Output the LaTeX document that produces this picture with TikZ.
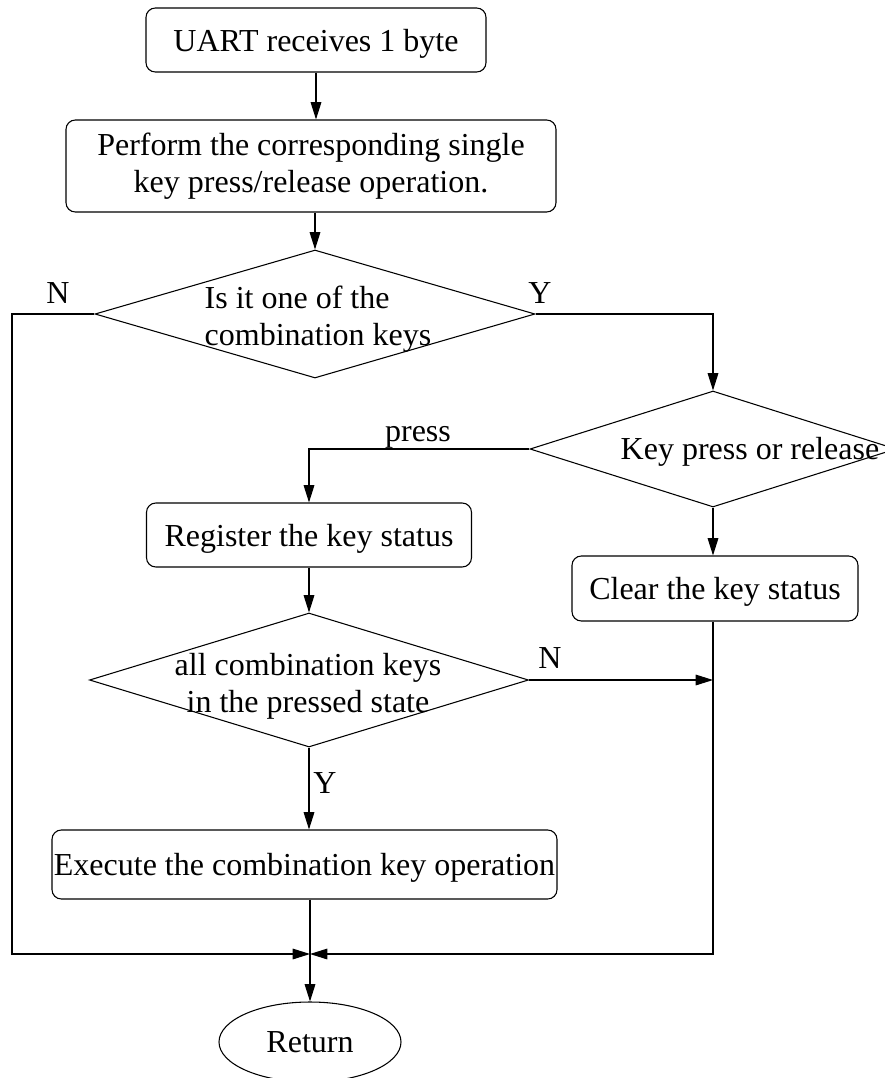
\documentclass[tikz,border=0pt]{standalone}
\usepackage{fontspec}
\setmainfont{Liberation Serif}
\usetikzlibrary{shapes.geometric,arrows.meta}
\begin{document}
\begin{tikzpicture}[x=0.75pt,y=-0.75pt,
  every node/.style={font=\fontsize{24}{27.5}\selectfont},
  box/.style={draw,rounded corners=7pt,line width=0.8pt,inner sep=0pt,align=center},
  oneline/.style={text height=17pt,text depth=0pt},
  dia/.style={draw,diamond,line width=0.8pt,inner sep=0pt},
  term/.style={draw,ellipse,line width=0.8pt,inner sep=0pt},
  txt/.style={inner sep=0pt,align=center},
  line/.style={line width=0.8pt},
  arr/.style={line width=0.8pt,-{Triangle[length=13pt,width=8pt]}}]
\useasboundingbox (0,0) rectangle (885,1078);
% nodes
\node[box,oneline,minimum width=255pt,minimum height=48pt] (b1) at (316,40) {UART receives 1 byte};
\node[box,minimum width=367.5pt,minimum height=69pt] (b2) at (311,166) {Perform the corresponding single\\key press/release operation.};
\node[dia,minimum width=330pt,minimum height=96pt] (d1) at (315,314) {};
\node[txt,align=left] (t1) at (318,319) {Is it one of the\\combination keys};
\node[dia,minimum width=274.5pt,minimum height=87pt] (d2) at (713,449) {};
\node[txt] (t2) at (750,452) {Key press or release};
\node[box,oneline,minimum width=243.75pt,minimum height=48pt] (b3) at (309,535) {Register the key status};
\node[box,oneline,minimum width=214.5pt,minimum height=48.75pt] (b4) at (715,588.5) {Clear the key status};
\node[dia,minimum width=329.25pt,minimum height=100.5pt] (d3) at (309,680) {};
\node[txt] (t3) at (308,686) {all combination keys\\in the pressed state};
\node[box,oneline,minimum width=378.75pt,minimum height=51.75pt] (b5) at (304.5,864.5) {Execute the combination key operation};
\node[term,minimum width=136.5pt,minimum height=60pt] (r) at (310,1042) {Return};
% labels
\node[txt] (lN1) at (58,293) {N};
\node[txt] (lY1) at (540,293) {Y};
\node[txt] (lp) at (418,437) {press};
\node[txt] (lN2) at (550,658) {N};
\node[txt] (lY2) at (325,783) {Y};
% helper coordinates
\coordinate (cl) at (12,954);
\coordinate (j) at (310,954);
\coordinate (cr) at (713,954);
% connectors
\draw[arr] (b1.south) -- (b1.south |- b2.north);
\draw[arr] (b2.south -| d1.north) -- (d1.north);
\draw[arr] (d1.west) -| (cl) -- (j);
\draw[arr] (d1.east) -| (d2.north);
\draw[arr] (d2.west) -| (b3.north);
\draw[arr] (d2.south) -- (d2.south |- b4.north);
\draw[arr] (b3.south) -- (d3.north);
\draw[arr] (d3.east) -- (d3.east -| cr);
\draw[arr] (b4.south -| cr) -- (cr) -- (j);
\draw[arr] (d3.south) -- (d3.south |- b5.north);
\draw[line] (b5.south -| j) -- (j);
\draw[arr] (j) -- (r.north);
\end{tikzpicture}
\end{document}
